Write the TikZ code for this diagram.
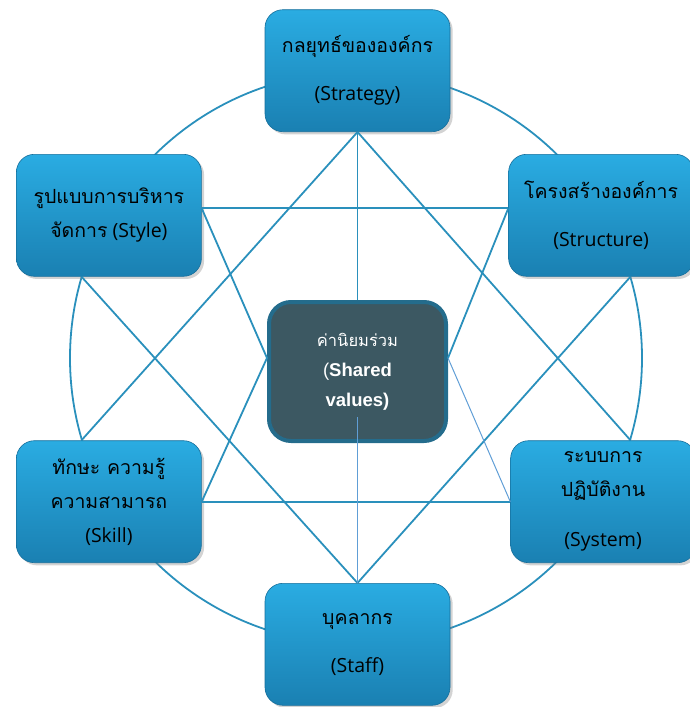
\documentclass[tikz,border=0pt]{standalone}
\usepackage{fontspec}
\setmainfont{Open Sans}
\newfontfamily\thaifont[Script=Thai]{Loma}
\newfontfamily\arialfont{Liberation Sans}
\usetikzlibrary{positioning, shadows}
\definecolor{boxtop}{RGB}{42,172,226}
\definecolor{boxbot}{RGB}{26,128,178}
\definecolor{boxedge}{RGB}{22,110,155}
\definecolor{linkblue}{RGB}{42,144,188}
\definecolor{thinblue}{RGB}{96,158,214}
\definecolor{coreedge}{RGB}{36,108,140}
\definecolor{corefill}{RGB}{60,88,98}

\begin{document}
\begin{tikzpicture}[x=1pt, y=-1pt,
  sbox/.style={rectangle, rounded corners=18pt, draw=boxedge, line width=0.6pt, top color=boxtop, bottom color=boxbot, minimum width=185pt, minimum height=122pt, align=center, font=\fontsize{19.5}{34}\selectfont, drop shadow={opacity=0.35}},
  core/.style={rectangle, rounded corners=22pt, draw=coreedge, line width=4pt, fill=corefill, minimum width=177pt, minimum height=139pt, align=center, text=white, font=\fontsize{18.5}{30}\selectfont},
  link/.style={draw=linkblue, line width=1.8pt},
  thinlink/.style={draw=thinblue, line width=1pt}]
\useasboundingbox (0,0) rectangle (689,707);
\coordinate (hub) at (356,358);
\draw[link] (hub) circle[radius=286pt];
\node[core] (shared) at (357.5,371.5) {{\thaifont\fontsize{16.5}{30}\selectfont ค่านิยมร่วม}\\{\arialfont(\bfseries Shared}\\{\arialfont\bfseries values)}};
\node[sbox, above=168pt of shared] (strat) {{\thaifont กลยุทธ์ขององค์กร}\\[14pt](Strategy)};
\node[sbox, below left=22pt and 63pt of strat] (styl) {{\thaifont รูปแบบการบริหาร}\\{\thaifont จัดการ} (Style)};
\node[sbox, below right=22pt and 58pt of strat] (struct) {{\thaifont โครงสร้างองค์การ}\\[14pt](Structure)};
\node[sbox, below=140pt of shared] (staff) {{\thaifont บุคลากร}\\[14pt](Staff)};
\node[sbox, above left=20pt and 63pt of staff] (skill) {{\thaifont ทักษะ ความรู้}\\{\thaifont ความสามารถ}\\(Skill)};
\node[sbox, above right=20pt and 60pt of staff] (sys) {{\thaifont ระบบการ}\\{\thaifont ปฏิบัติงาน}\\[16pt](System)};
\coordinate (tail) at ([yshift=-45.5pt]shared.center);
\draw[link] (strat.south) -- ([xshift=-27.5pt]skill.north);
\draw[link] (strat.south) -- ([xshift=27.5pt]sys.north);
\draw[link] (strat.south) -- (shared.north);
\draw[link] ([yshift=7pt]styl.east) -- ([yshift=7pt]struct.west);
\draw[link] (skill.east) -- (sys.west);
\draw[link] ([xshift=-27.5pt]styl.south) -- (staff.north);
\draw[link] ([xshift=29.5pt]struct.south) -- (staff.north);
\draw[link] ([yshift=7pt]styl.east) -- ([yshift=13.5pt]shared.west);
\draw[link] (skill.east) -- ([yshift=13.5pt]shared.west);
\draw[link] ([yshift=7pt]struct.west) -- ([yshift=13.5pt]shared.east);
\draw[thinlink] ([yshift=13.5pt]shared.east) -- (sys.west);
\draw[thinlink] (tail) -- (staff.north);
\end{tikzpicture}
\end{document}
